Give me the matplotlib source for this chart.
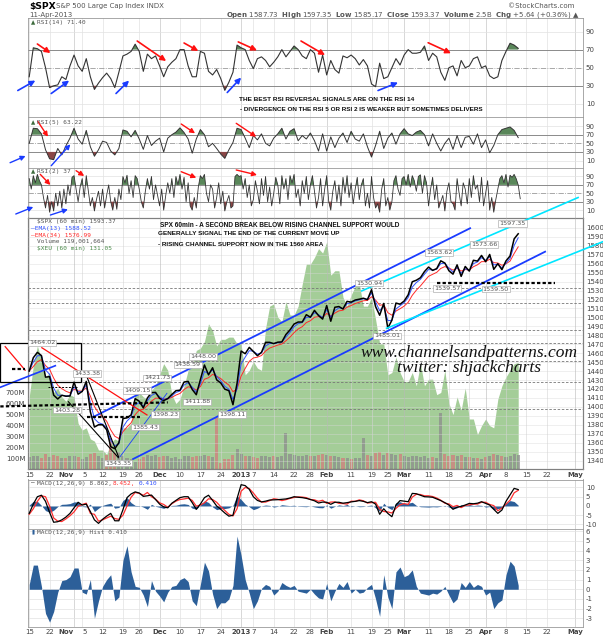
import numpy as np
import pandas as pd
import matplotlib
matplotlib.use("Agg")
import matplotlib.pyplot as plt
from matplotlib.patches import Rectangle

plt.rcParams["axes.unicode_minus"] = False

W, H = 603, 640

# trading sessions Oct 15 2012 .. May 2013 (the hourly chart is kept here as one value per session)
holidays = pd.to_datetime(["2012-10-29", "2012-10-30", "2012-11-22", "2012-12-25",
                           "2013-01-01", "2013-01-21", "2013-02-18", "2013-03-29"])
sessions = pd.bdate_range("2012-10-15", "2013-05-03")
sessions = sessions[~sessions.isin(holidays)]

tick_dates = ["2012-10-15", "2012-10-22", "2012-11-01", "2012-11-05", "2012-11-12",
              "2012-11-19", "2012-11-26", "2012-12-03", "2012-12-10", "2012-12-17",
              "2012-12-24", "2013-01-02", "2013-01-07", "2013-01-14", "2013-01-22",
              "2013-01-28", "2013-02-01", "2013-02-11", "2013-02-19", "2013-02-25",
              "2013-03-01", "2013-03-11", "2013-03-18", "2013-03-25", "2013-04-01",
              "2013-04-08", "2013-04-15", "2013-04-22", "2013-05-01"]
tick_labels = ["15", "22", "Nov", "5", "12", "19", "26", "Dec", "10", "17", "24", "2013",
               "7", "14", "22", "28", "Feb", "11", "19", "25", "Mar", "11", "18", "25",
               "Apr", "8", "15", "22", "May"]

# $SPX close per session
close = [1440.1, 1454.9, 1460.9, 1457.3, 1433.2, 1433.8, 1413.1, 1408.8, 1413.0, 1411.9,
         1412.2, 1427.6, 1414.2,
         1417.3, 1428.4, 1394.5, 1377.5, 1380.0,
         1380.0, 1374.5, 1355.5, 1353.3, 1359.9,
         1386.9, 1387.8, 1391.0, 1409.2,
         1406.3, 1398.9, 1409.9, 1415.9, 1416.2,
         1409.5, 1407.0, 1409.3, 1413.9, 1418.1,
         1418.6, 1427.8, 1428.5, 1419.5, 1413.6,
         1430.4, 1446.8, 1435.8, 1443.7, 1430.2,
         1426.7, 1419.8, 1418.1, 1402.4, 1426.2,
         1462.4, 1459.4, 1466.5,
         1461.9, 1457.2, 1461.0, 1472.1, 1472.1,
         1470.7, 1472.3, 1472.6, 1480.9, 1486.0,
         1492.6, 1494.8, 1494.8, 1503.0,
         1500.2, 1507.8, 1502.0, 1498.1, 1513.2,
         1495.7, 1511.3, 1512.1, 1509.4, 1517.9,
         1517.0, 1519.4, 1520.3, 1521.4, 1519.8,
         1530.9, 1512.0, 1502.4, 1515.6,
         1487.9, 1496.9, 1516.0, 1514.7, 1518.2,
         1525.2, 1539.8, 1541.5, 1544.3, 1551.2,
         1556.2, 1552.5, 1554.5, 1563.2, 1560.7,
         1552.1, 1548.3, 1558.7, 1545.8, 1556.9,
         1551.7, 1563.8, 1562.9, 1569.2,
         1562.2, 1570.3, 1553.7, 1560.0, 1553.3,
         1563.1, 1568.6, 1587.7, 1593.4]

# $XEU (euro) overlay
eur = [129.5, 130.9, 131.8, 131.2, 130.4, 130.6, 129.7, 129.9, 129.5, 129.3,
       129.6, 129.5, 128.3,
       128.0, 128.1, 127.6, 127.5, 127.1,
       127.1, 126.9, 127.4, 127.6, 127.5,
       128.1, 128.1, 128.3, 129.7,
       129.7, 129.5, 129.4, 129.8, 130.0,
       130.5, 131.0, 130.7, 129.6, 129.2,
       129.4, 130.0, 130.7, 130.9, 131.6,
       131.7, 132.0, 132.8, 132.5, 131.8,
       132.1, 132.1, 132.2, 132.2, 131.9,
       131.9, 130.5, 130.7,
       131.1, 130.8, 130.7, 132.6, 133.6,
       133.7, 133.1, 132.9, 133.8, 133.2,
       133.2, 133.6, 134.6, 135.5,
       135.5, 135.8, 136.2, 136.0, 136.5,
       135.0, 135.2, 135.2, 134.0, 133.6,
       134.1, 134.5, 134.6, 133.6, 133.6,
       134.0, 133.0, 131.9, 131.9,
       130.5, 130.6, 131.3, 130.6, 130.2,
       130.2, 130.6, 130.0, 131.0, 130.0,
       130.3, 130.3, 129.6, 129.7, 130.7,
       129.2, 128.7, 129.5, 128.9, 129.9,
       128.5, 128.5, 127.8, 128.2,
       128.5, 128.2, 128.1, 129.4, 130.0,
       130.4, 130.7, 131.0, 131.05]

# volume, millions
volume = [110, 120, 115, 105, 135, 110, 125, 115, 100, 105,
          120, 115, 110,
          95, 110, 140, 150, 120,
          100, 125, 280, 150, 160,
          120, 100, 95, 60,
          95, 110, 125, 115, 130,
          110, 115, 120, 105, 110,
          95, 120, 115, 110, 120,
          115, 130, 120, 110, 470,
          55, 90, 95, 130, 180,
          140, 120, 115,
          110, 105, 115, 120, 110,
          115, 110, 120, 330, 140,
          125, 115, 120, 130,
          115, 120, 125, 140, 130,
          120, 115, 110, 105, 100,
          95, 100, 105, 280, 130,
          120, 150, 160, 130,
          150, 140, 125, 135, 120,
          110, 120, 115, 110, 115,
          105, 110, 100, 510, 140,
          120, 125, 115, 130, 110,
          110, 105, 100, 95,
          110, 115, 140, 125, 120,
          110, 120, 135, 125]

rsi14 = [40, 72, 71, 68, 50, 28, 30, 31, 40, 37,
         52, 64, 52, 46, 60, 40, 26, 33, 39, 44,
         38, 28, 45, 63, 65, 68, 76, 68, 46, 65,
         60, 63, 52, 40, 51, 56, 60, 70, 70, 52,
         40, 40, 68, 66, 46, 42, 48, 38, 25, 34,
         45, 75, 72, 70, 58, 49, 60, 62, 58, 51,
         56, 62, 70, 62, 68, 74, 70, 63, 60, 70,
         66, 45, 64, 42, 58, 48, 44, 63, 61, 64,
         60, 53, 59, 52, 32, 29, 55, 38, 40, 50,
         60, 53, 64, 70, 66, 66, 67, 74, 58, 66,
         62, 45, 36, 50, 52, 41, 58, 50, 52, 60,
         62, 50, 52, 41, 38, 40, 58, 68, 77, 75,
         71.4]

rsi5 = [50, 85, 84, 72, 35, 14, 12, 38, 23, 44,
        62, 85, 60, 48, 80, 42, 20, 35, 55, 52,
        32, 23, 38, 81, 78, 65, 80, 60, 36, 68,
        45, 55, 62, 30, 62, 70, 76, 86, 75, 60,
        27, 60, 82, 70, 42, 50, 38, 25, 15, 35,
        52, 85, 82, 62, 40, 68, 58, 72, 50, 44,
        62, 72, 85, 60, 78, 84, 56, 68, 60, 74,
        56, 32, 72, 32, 65, 40, 62, 74, 52, 78,
        60, 55, 72, 42, 18, 45, 78, 38, 62, 74,
        48, 72, 84, 72, 68, 76, 80, 70, 44, 72,
        50, 32, 50, 62, 36, 68, 40, 64, 66, 48,
        72, 40, 58, 28, 45, 70, 82, 85, 88, 80,
        63.22]

# RSI(2): two readings per session
rsi2 = [85, 60, 92, 75, 95, 80, 70, 40, 15, 45,
        5, 30, 8, 50, 20, 55, 15, 60, 25, 70,
        45, 88, 92, 60, 30, 65, 85, 40, 92, 55,
        20, 40, 8, 35, 55, 20, 60, 15, 45, 70,
        30, 10, 40, 12, 60, 35, 90, 75, 93, 50,
        80, 40, 92, 85, 60, 30, 15, 55, 85, 60,
        90, 35, 70, 45, 20, 60, 10, 45, 75, 50,
        85, 40, 90, 70, 95, 60, 88, 30, 75, 20,
        10, 40, 15, 65, 92, 85, 95, 50, 30, 70,
        60, 15, 40, 75, 25, 55, 8, 30, 45, 15,
        20, 90, 95, 90, 92, 60, 85, 40, 70, 20,
        35, 80, 55, 25, 85, 45, 90, 30, 65, 20,
        50, 88, 70, 25, 92, 60, 85, 35, 92, 75,
        95, 40, 60, 20, 80, 50, 90, 35, 70, 92,
        55, 15, 40, 85, 20, 60, 92, 30, 10, 55,
        80, 30, 70, 20, 88, 50, 92, 40, 75, 25,
        60, 88, 35, 70, 85, 20, 50, 15, 90, 40,
        15, 25, 5, 60, 85, 20, 40, 10, 30, 80,
        92, 60, 45, 85, 90, 70, 95, 65, 92, 80,
        55, 90, 94, 50, 92, 75, 20, 60, 88, 35,
        70, 15, 30, 45, 8, 55, 75, 30, 25, 10,
        85, 50, 20, 75, 60, 25, 85, 40, 92, 60,
        70, 30, 88, 20, 50, 80, 10, 40, 5, 35,
        60, 85, 92, 75, 95, 65, 93, 88, 95, 85,
        70, 37]

macd = [-4.0, 1.0, 5.0, 5.8, 2.5, -3.5, -8.8, -8.5, -7.5, -6.0,
        -4.0, -1.0, 2.0, 0.5, 1.0, -3.0, -7.5, -9.4, -7.2, -5.5,
        -4.0, -8.0, -8.0, -2.0, 4.5, 6.5, 7.6, 7.0, 5.2, 5.5,
        5.9, 3.5, 1.0, -0.5, -1.0, 1.5, 3.0, 4.5, 5.0, 5.0,
        1.8, -1.8, 1.0, 4.5, 5.8, 3.0, 0.0, -1.8, -3.8, -5.5,
        -5.0, 4.0, 11.5, 11.0, 9.0, 5.0, 3.0, 2.2, 2.6, 3.2,
        3.3, 3.4, 3.6, 3.8, 4.3, 5.0, 4.7, 4.5, 4.1, 3.5,
        2.8, 1.6, 2.1, 2.0, 0.9, 2.0, 2.0, 1.5, 1.8, 2.2,
        2.5, 2.9, 2.5, 1.8, 2.3, 1.0, -4.5, -1.5, -4.0, -5.8,
        0.5, 2.9, 2.6, 2.3, 6.8, 6.6, 5.8, 5.0, 4.9, 4.7,
        3.8, 2.9, 1.8, 0.5, -1.8, -0.7, -0.2, 0.5, 1.4, 1.2,
        1.5, 2.3, 1.4, 0.5, -1.8, -4.0, -2.2, 2.5, 6.0, 9.5,
        8.862]

hist = [0.5, 2.5, 2.5, 0.3, -2.5, -3.4, -2.3, -0.3, 0.9, 1.0,
        1.3, 2.2, 2.2, -0.3, -0.5, 1.0, -3.0, -1.2, 0.3, 1.0,
        1.5, -1.2, -0.8, 3.0, 4.5, 1.8, 0.3, 0.2, -0.6, -1.8,
        0.9, -0.2, -0.7, -1.3, -0.3, 0.3, 0.4, 1.0, 1.2, 0.8,
        -1.2, -1.7, 0.5, 2.8, 1.9, -0.5, -2.0, -1.4, -1.4, -1.0,
        0.4, 5.5, 3.5, 1.0, -0.4, -2.0, -1.2, 0.1, 0.5, 0.3,
        -0.6, -0.2, 0.7, 0.4, 0.2, 0.4, -0.2, -0.3, -0.4, 0.0,
        -0.5, -0.9, -1.0, 0.6, -1.2, -0.2, 0.6, 0.2, 0.8, -0.4,
        0.0, -0.4, -0.3, 0.2, 0.5, -1.0, -2.8, 1.5, -0.8, -2.0,
        1.8, 2.3, 1.3, 1.5, 2.0, 0.3, -0.4, -0.5, -0.6, -0.4,
        -0.5, -0.2, 0.3, -0.6, -1.4, -1.0, 0.7, 0.2, 0.8, 0.2,
        0.5, 0.3, -0.6, -0.3, -2.0, -1.4, -1.1, 1.5, 2.9, 2.4,
        0.41]

# price annotations: (session, price, text)
price_marks = [(3.2, 1471.4, "1464.02"), (9.3, 1396.5, "1403.28"), (14.2, 1437.0, "1433.38"),
               (21.8, 1337.3, "1343.35"), (26.5, 1417.8, "1409.15"), (28.5, 1377.5, "1385.43"),
               (33.4, 1391.0, "1398.23"), (31.4, 1432.3, "1421.73"), (38.9, 1446.8, "1438.59"),
               (42.7, 1455.8, "1448.00"), (41.2, 1405.5, "1411.88"), (49.8, 1391.0, "1398.11"),
               (83.4, 1538.4, "1530.94"), (87.8, 1479.2, "1485.01"), (100.6, 1572.7, "1563.62"),
               (111.6, 1581.7, "1573.66"), (102.6, 1532.5, "1539.57"), (114.5, 1531.7, "1539.50"),
               (118.6, 1605.1, "1597.35")]
support_levels = [1532.6, 1515.8, 1485.9, 1471.0, 1451.3, 1428.2, 1397.3]

x = np.arange(len(close))
x2 = np.arange(len(rsi2)) * 0.5
close = np.array(close)
rsi14, rsi5, rsi2 = np.array(rsi14), np.array(rsi5), np.array(rsi2)
macd, hist = np.array(macd), np.array(hist)
signal = macd - hist
# 13 and 34 hour EMAs expressed per session
ema13 = pd.Series(close).ewm(alpha=0.66, adjust=False).mean()
ema34 = pd.Series(close).ewm(alpha=0.34, adjust=False).mean()
tick_pos = [sessions.get_loc(pd.Timestamp(d)) for d in tick_dates]
is_bold = [not t.isdigit() or t == "2013" for t in tick_labels]

GRID = "#e2e2e2"
RED = "#ff1010"
BLUE = "#1a3cff"
CYAN = "#00e6ff"
HISTC = "#2c5f99"

fig = plt.figure(figsize=(W / 100, H / 100), dpi=100)


def box(top, bottom):
    return [28 / W, 1 - bottom / H, 555 / W, (bottom - top) / H]


def fx(px):
    return px / W


def fy(py):
    return 1 - py / H


def base(ax, labels=False):
    ax.set_xlim(-0.3, 135.9)
    ax.set_facecolor("white")
    for s in ax.spines.values():
        s.set_color("#9a9a9a")
        s.set_linewidth(0.6)
    ax.tick_params(length=0, labelsize=5, colors="#444444", pad=2)
    ax.set_xticks(tick_pos)
    if labels:
        ax.set_xticklabels(tick_labels)
        for t, b in zip(ax.get_xticklabels(), is_bold):
            if b:
                t.set_fontweight("bold")
        # "Nov" and "5" sit side by side
        ax.get_xticklabels()[2].set_ha("right")
        ax.get_xticklabels()[3].set_ha("left")
    else:
        ax.set_xticklabels([])


def vgrid(ax):
    for p, b in zip(tick_pos, is_bold):
        ax.axvline(p, color="#c8c8c8" if b else GRID, lw=0.5, zorder=0.5)


def arrow(ax, x0, y0, x1, y1, color, lw=1.2, ms=8):
    ax.annotate("", xy=(x1, y1), xytext=(x0, y0), annotation_clip=False,
                arrowprops=dict(arrowstyle="-|>", color=color, lw=lw, mutation_scale=ms,
                                shrinkA=0, shrinkB=0))


def fit_width(t, width_px):
    # scale a note so it spans the same width as on the original chart
    r = fig.canvas.get_renderer()
    w = t.get_window_extent(r).width
    t.set_fontsize(t.get_fontsize() * width_px / w)


def rsi_panel(ax, xs, vals, lo, hi, lw):
    base(ax)
    ax.set_ylim(lo, hi)
    ax.yaxis.tick_right()
    ax.set_yticks([10, 30, 50, 70, 90])
    vgrid(ax)
    for lv in (10, 90):
        ax.axhline(lv, color=GRID, lw=0.5, zorder=0.5)
    for lv in (30, 70):
        ax.axhline(lv, color="#8a8a8a", lw=0.7, zorder=1)
    ax.axhline(50, color="#9a9a9a", lw=0.6, ls="-.", zorder=1)
    ax.fill_between(xs, vals, 70, where=vals > 70, interpolate=True, color="#5a875a", lw=0, zorder=2)
    ax.fill_between(xs, vals, 30, where=vals < 30, interpolate=True, color="#8a4646", lw=0, zorder=2)
    ax.plot(xs, vals, color="#333333", lw=lw, zorder=3)


ax14 = fig.add_axes(box(18.3, 117.3))
ax5 = fig.add_axes(box(117.3, 168.3))
ax2 = fig.add_axes(box(168.3, 218.3))
rsi_panel(ax14, x, rsi14, -4.8, 104.6, 0.8)
rsi_panel(ax5, x, rsi5, -8.1, 110.5, 0.7)
rsi_panel(ax2, x2, rsi2, -9.5, 109.5, 0.6)

# RSI(14) divergence arrows
for a in [(2.0, 76.2, 5.2, 66.2), (26.5, 79.5, 33.6, 57.4), (38.0, 77.3, 41.5, 68.5),
          (51.3, 78.5, 55.9, 69.1), (66.7, 79.5, 72.6, 64.0), (97.9, 77.6, 103.5, 66.0)]:
    arrow(ax14, *a, RED)
for a in [(-2.8, 24.8, 1.5, 35.8), (5.4, 21.5, 9.8, 35.8), (21.3, 21.5, 24.5, 35.8),
          (48.6, 22.6, 52.0, 39.1), (85.6, 24.8, 90.5, 33.6)]:
    arrow(ax14, *a, BLUE)
for a in [(2.1, 101.0, 4.6, 65.3), (37.3, 94.9, 40.7, 73.3), (50.8, 96.5, 55.7, 65.3)]:
    arrow(ax5, *a, RED, lw=1.0, ms=7)
for a in [(-4.7, 4.9, -0.9, 20.5), (5.4, -2.1, 10.1, 47.7)]:
    arrow(ax5, *a, BLUE, lw=1.0, ms=7)
for a in [(2.7, 95.2, 5.2, 69.8), (11.5, 103.8, 13.5, 91.2), (37.3, 101.4, 41.0, 87.1),
          (50.8, 105.5, 55.9, 93.6)]:
    arrow(ax2, *a, RED, lw=1.0, ms=7)
for a in [(-3.3, 0.7, 1.0, 17.4), (5.2, -1.7, 9.5, 11.9)]:
    arrow(ax2, *a, BLUE, lw=1.0, ms=7)

note_font = dict(family=["Liberation Sans", "DejaVu Sans"], fontweight="bold",
                 color="#111111", fontsize=5.6, va="center")
n1 = ax14.text(51.5, 15.1, "THE BEST RSI REVERSAL SIGNALS ARE ON THE RSI 14", **note_font)
n2 = ax14.text(51.8, 4.0, "- DIVERGENCE ON THE RSI 5 OR RSI 2 IS WEAKER BUT SOMETIMES DELIVERS",
               **note_font)

# ---- main price panel ----
axe = fig.add_axes(box(218.3, 469))
base(axe, labels=True)
axe.set_ylim(126.24, 137.57)
axe.set_yticks([])
axe.fill_between(x, eur, 126.24, color="#a4cd98", lw=0, zorder=1)

axv = axe.twinx()
axv.set_ylim(0, 2296)
axv.yaxis.set_ticks_position("left")
axv.set_yticks([100, 200, 300, 400, 500, 600, 700])
axv.set_yticklabels(["100M", "200M", "300M", "400M", "500M", "600M", "700M"])
axv.tick_params(length=0, labelsize=5, colors="#444444", pad=2)
down = np.diff(close, prepend=close[0]) < 0
axv.bar(x, volume, width=0.75, color=np.where(down, "#d27c7c", "#8c8c8c"), alpha=0.75, lw=0)

axp = axe.twinx()
axp.set_ylim(1330.6, 1610.7)
axp.yaxis.tick_right()
axp.set_yticks(np.arange(1340, 1601, 10))
axp.tick_params(length=0, labelsize=5, colors="#444444", pad=2)
for s in axp.spines.values():
    s.set_color("#9a9a9a")
    s.set_linewidth(0.6)
for lv in np.arange(1340, 1601, 10):
    axp.axhline(lv, color="#d8d8d8", lw=0.4, alpha=0.7, zorder=0.5)
for p, b in zip(tick_pos, is_bold):
    axp.axvline(p, color="#b8b8b8" if b else "#d4d4d4", lw=0.5, alpha=0.8, zorder=0.5)
for lv in support_levels:
    axp.axhline(lv, color="#777777", lw=0.6, ls=(0, (3, 2)), zorder=1)

axp.plot(x, ema34, color="#ff2a2a", lw=0.7, zorder=3)
axp.plot(x, ema13, color="#3050ff", lw=0.7, zorder=3)
axp.plot(x, close, color="black", lw=1.1, zorder=4)

# channels and trend lines
line_kw = dict(clip_on=False, zorder=5)
axp.plot([15.7, 108.2], [1388.7, 1599.6], color=BLUE, lw=1.3, **line_kw)
axp.plot([25.5, 126.6], [1341.8, 1573.4], color=BLUE, lw=1.3, **line_kw)
axp.plot([81.6, 134.7], [1529.6, 1633.9], color=CYAN, lw=1.2, **line_kw)
axp.plot([87.7, 140.8], [1487.8, 1584.6], color=CYAN, lw=1.2, **line_kw)
axp.plot([22.3, 33.8], [1344.4, 1415.2], color=BLUE, lw=0.6, **line_kw)
axp.plot([3.1, 28.9], [1466.1, 1391.0], color=RED, lw=0.9, **line_kw)
axp.plot([-5.9, -1.0], [1467.3, 1441.0], color=RED, lw=0.9, **line_kw)
axp.plot([-7.1, 6.4], [1421.9, 1446.0], color=BLUE, lw=1.2, **line_kw)
axp.plot([14.3, 21.9], [1432.0, 1344.4], color="black", lw=0.8, **line_kw)
axp.plot([9.6, 21.9], [1405.8, 1343.2], color="black", lw=0.8, **line_kw)
axp.plot([-7.1, 34.0], [1400.5, 1405.0], color="black", lw=1.6, ls=(0, (1.5, 1)), **line_kw)
axp.plot([14.2, 27.2], [1389.0, 1389.0], color="black", lw=1.6, ls=(0, (1.5, 1)), **line_kw)
axp.plot([-4.2, -1.0], [1442.3, 1442.3], color="black", lw=1.6, ls=(0, (1.5, 1)), **line_kw)
axp.plot([4.7, 11.8], [1421.9, 1421.9], color="black", lw=0.7, ls=(0, (2, 1.5)), **line_kw)
axp.plot([100.0, 129.0], [1538.1, 1538.1], color="black", lw=1.6, ls=(0, (1.5, 1)), **line_kw)
axp.add_patch(Rectangle((-7.1, 1428.2), 19.85, 42.8, fill=False, ec="black", lw=0.9,
                        clip_on=False, zorder=5))

for px_, pr, t in price_marks:
    axp.text(px_, pr, t, fontsize=4.6, color="#555555", ha="center", va="center", zorder=6,
             bbox=dict(boxstyle="square,pad=0.15", fc="white", ec="#b0b0b0", lw=0.5))

main_font = dict(family=["Liberation Sans", "DejaVu Sans"], fontweight="bold",
                 color="#111111", fontsize=5.8, va="center", zorder=7)
m1 = axp.text(32.1, 1603.0, "SPX 60min - A SECOND BREAK BELOW RISING CHANNEL SUPPORT WOULD", **main_font)
m2 = axp.text(31.6, 1594.0, "GENERALLY SIGNAL THE END OF THE CURRENT MOVE UP", **main_font)
m3 = axp.text(31.6, 1581.7, "- RISING CHANNEL SUPPORT NOW IN THE 1560 AREA", **main_font)

wm = dict(family=["Liberation Serif", "DejaVu Serif"], style="italic", fontsize=12.5,
          color="#111111", ha="center", va="center", zorder=7)
axp.text(107.9, 1460.0, "www.channelsandpatterns.com", **wm)
axp.text(107.9, 1443.0, "twitter: shjackcharts", **wm)

# ---- MACD panels ----
axm = fig.add_axes(box(479.5, 529.3))
base(axm)
axm.set_ylim(-12.6, 14.3)
axm.yaxis.tick_right()
axm.set_yticks([-10, -5, 0, 5, 10])
vgrid(axm)
for lv in (-10, -5, 5, 10):
    axm.axhline(lv, color=GRID, lw=0.5, zorder=0.5)
axm.fill_between(x, hist, 0, color=HISTC, lw=0, zorder=2)
axm.plot(x, signal, color="#ff3030", lw=0.9, zorder=3)
axm.plot(x, macd, color="black", lw=0.9, zorder=4)

axh = fig.add_axes(box(529.3, 626.7))
base(axh, labels=True)
axh.set_ylim(-3.87, 6.2)
axh.yaxis.tick_right()
axh.set_yticks(np.arange(-3, 7))
vgrid(axh)
for lv in np.arange(-3, 7):
    axh.axhline(lv, color=GRID, lw=0.5, zorder=0.5)
axh.fill_between(x, hist, 0, color=HISTC, lw=0, zorder=2)

# ---- header and legends ----
gray = "#555555"
fig.text(fx(29), fy(6), "$SPX", fontsize=6.6, fontweight="bold", va="center")
fig.text(fx(56), fy(6), "S&P 500 Large Cap Index INDX", fontsize=5, color=gray, va="center")
fig.text(fx(574), fy(6), "©StockCharts.com", fontsize=5, color=gray, ha="right", va="center")
fig.text(fx(29), fy(15), "11-Apr-2013", fontsize=5, color=gray, va="center")
fig.text(fx(580), fy(15), r"$\bf{Open}$ 1587.73  $\bf{High}$ 1597.35  $\bf{Low}$ 1585.17  "
         r"$\bf{Close}$ 1593.37  $\bf{Volume}$ 2.5B  $\bf{Chg}$ +5.64 (+0.36%) ▲",
         fontsize=5, color=gray, ha="right", va="center")

mono = dict(family="DejaVu Sans Mono", fontsize=4.4, va="center")
for yy, t in [(22.7, "RSI(14) 71.40"), (122.7, "RSI(5) 63.22"), (171.7, "RSI(2) 37")]:
    fig.text(fx(31), fy(yy), "▲", fontsize=4, color="#3d6b3d", va="center")
    fig.text(fx(37), fy(yy), t, color=gray, **mono)
fig.text(fx(37), fy(221.7), "$SPX (60 min) 1593.37", color=gray, **mono)
fig.text(fx(31), fy(228.3), "—EMA(13) 1588.52", color="#3050ff", **mono)
fig.text(fx(31), fy(235.0), "—EMA(34) 1576.99", color="#ff2a2a", **mono)
fig.text(fx(37), fy(241.7), "Volume 119,001,664", color=gray, **mono)
fig.text(fx(37), fy(248.3), "$XEU (60 min) 131.05", color="#4a8a4a", **mono)
fig.text(fx(31), fy(483.3), "—", color="black", **mono)
fig.text(fx(37), fy(483.3), "MACD(12,26,9) 8.862,", color=gray, **mono)
fig.text(fx(113), fy(483.3), "8.452,", color="#ff3030", **mono)
fig.text(fx(139), fy(483.3), "0.410", color="#3050ff", **mono)
fig.text(fx(31), fy(532.3), "▮", fontsize=4, color=HISTC, va="center")
fig.text(fx(37), fy(532.3), "MACD(12,26,9) Hist 0.410", color=gray, **mono)

for t, wpx in [(n1, 173), (n2, 242), (m1, 241), (m2, 182), (m3, 165)]:
    fit_width(t, wpx)

fig.savefig("out.png", dpi=100)
